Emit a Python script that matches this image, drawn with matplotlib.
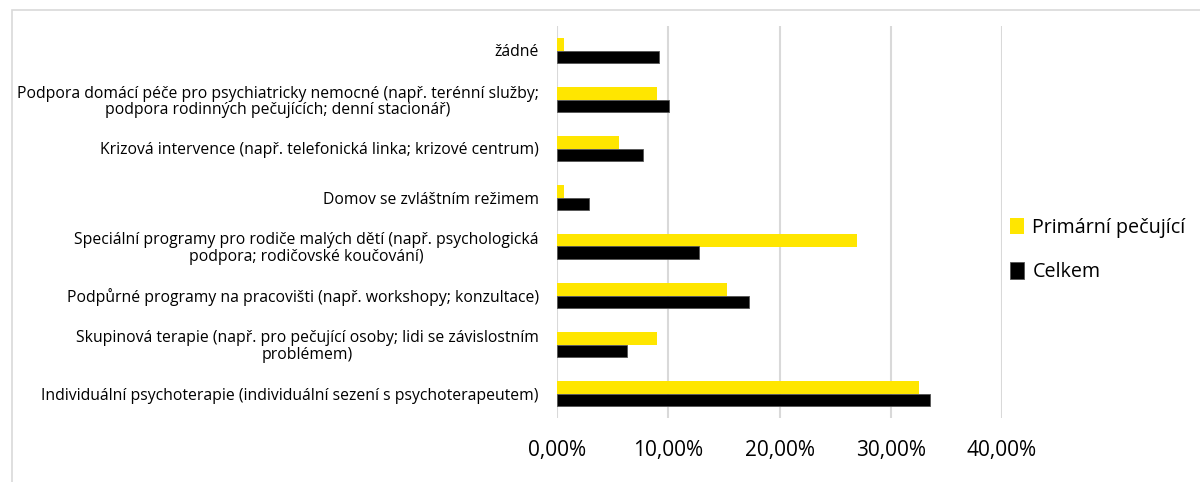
import matplotlib
matplotlib.use("Agg")
import matplotlib.pyplot as plt
import numpy as np
from matplotlib.patches import Rectangle
from matplotlib.ticker import FuncFormatter

categories = [
    "žádné",
    "Podpora domácí péče pro psychiatricky nemocné (např. terénní služby;\npodpora rodinných pečujících; denní stacionář)",
    "Krizová intervence (např. telefonická linka; krizové centrum)",
    "Domov se zvláštním režimem",
    "Speciální programy pro rodiče malých dětí (např. psychologická\npodpora; rodičovské koučování)",
    "Podpůrné programy na pracovišti (např. workshopy; konzultace)",
    "Skupinová terapie (např. pro pečující osoby; lidi se závislostním\nproblémem)",
    "Individuální psychoterapie (individuální sezení s psychoterapeutem)",
]
primarni = [0.65, 9.0, 5.55, 0.65, 27.0, 15.25, 9.0, 32.55]
celkem = [9.15, 10.1, 7.7, 2.85, 12.8, 17.3, 6.3, 33.55]
series_names = ["Primární pečující", "Celkem"]
x_ticks = [0, 10, 20, 30, 40]

plt.rcParams['font.family'] = ['Open Sans', 'DejaVu Sans']

fig = plt.figure(figsize=(12, 4.82), dpi=100)
W, H = 1200, 482
ax = fig.add_axes([557 / W, 1 - 418 / H, (1002 - 557) / W, (418 - 26) / H])

y = np.arange(len(categories))
h = 0.245
ax.barh(y - h / 2, primarni, height=h, color="#FFE600", label=series_names[0], zorder=3)
ax.barh(y + h / 2, celkem, height=h, color="#000000", edgecolor="#555555", linewidth=0.6,
        label=series_names[1], zorder=3)

ax.set_ylim(len(categories) - 0.5, -0.5)
ax.set_xlim(0, 40)
ax.set_xticks(x_ticks)
ax.xaxis.set_major_formatter(FuncFormatter(lambda v, p: f"{v:.2f}%".replace(".", ",")))
ax.grid(axis="x", color="#D9D9D9", linewidth=1.5, zorder=0)
ax.set_axisbelow(True)
for s in ax.spines.values():
    s.set_visible(False)
ax.tick_params(axis="x", length=0, pad=16, labelsize=15)
ax.tick_params(axis="y", length=0, pad=13)
ax.set_yticks(y)
ax.set_yticklabels(categories, fontsize=11.3, multialignment="center", linespacing=1.05)

leg = fig.legend(loc="center left", bbox_to_anchor=(992 / W, 1 - 250 / H), frameon=False,
                 fontsize=14.2, handlelength=0.7, handleheight=0.9, handletextpad=0.45,
                 labelspacing=1.25)

fig.patches.append(Rectangle((12 / W, -0.05), 1.1, 1 - 10 / H + 0.05, transform=fig.transFigure,
                             fill=False, edgecolor="#D9D9D9", linewidth=1.2))

fig.savefig("out.png", dpi=100)
